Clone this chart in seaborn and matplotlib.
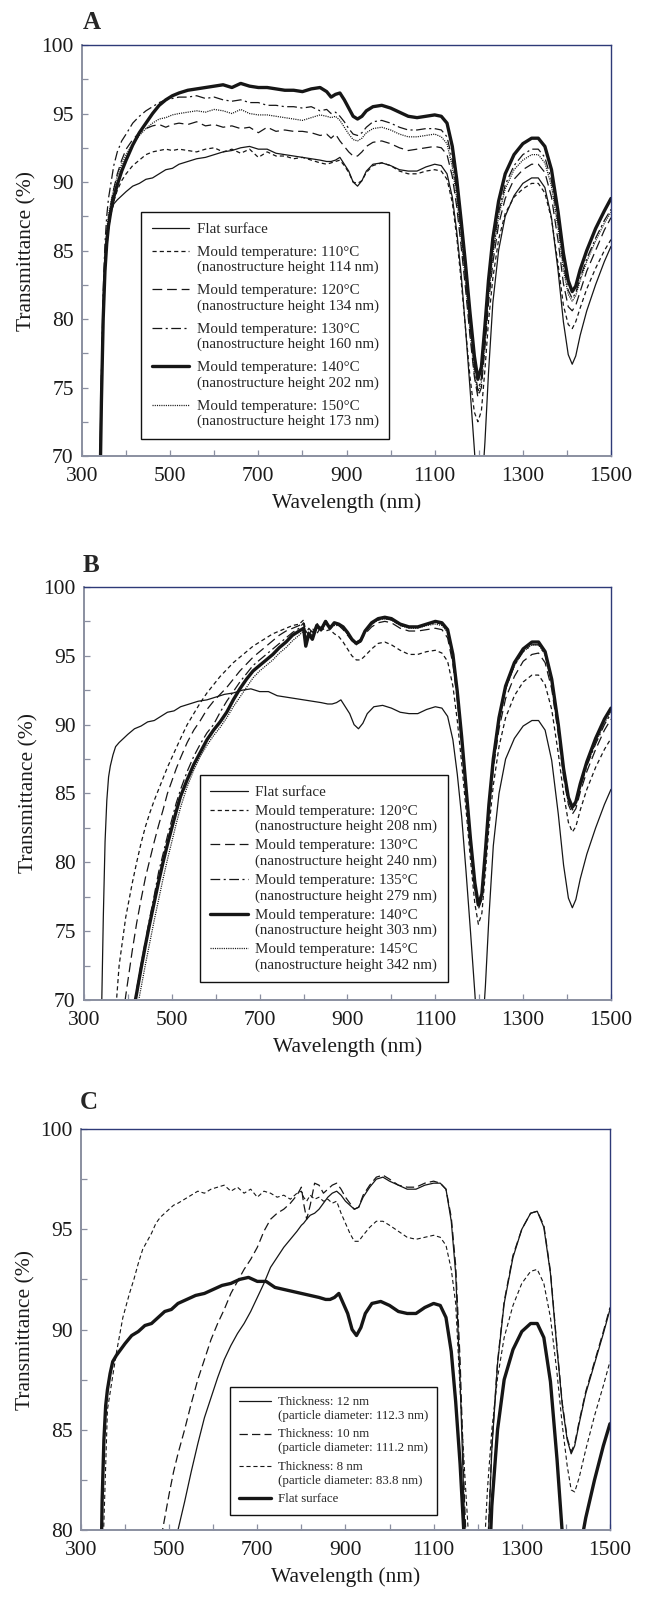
import numpy as np
import pandas as pd
import seaborn as sns
import matplotlib.pyplot as plt
from matplotlib.legend_handler import HandlerLine2D

# wavelength grids (nm)
wl_a = [340, 344, 348, 352, 356, 360, 366, 372, 380, 390,
        400, 415, 430, 445, 460, 475, 490, 505, 520, 540,
        560, 580, 600, 620, 640, 660, 680, 700, 720, 740,
        760, 780, 800, 820, 840, 855, 865, 875, 885, 895,
        905, 915, 925, 935, 945, 960, 980, 1000, 1020, 1040,
        1060, 1080, 1100, 1115, 1128, 1140, 1150, 1160, 1170, 1180,
        1190, 1198, 1206, 1214, 1222, 1232, 1245, 1260, 1280, 1300,
        1320, 1335, 1350, 1365, 1380, 1392, 1403, 1412, 1420, 1430,
        1445, 1465, 1485, 1500]
wl_b = [340, 360, 380, 395, 410, 420, 430, 440, 450, 460,
        470, 480, 490, 500, 510, 520, 535, 550, 565, 580,
        595, 610, 625, 640, 655, 670, 685, 700, 715, 730,
        745, 760, 775, 790, 800, 805, 812, 820, 830, 840,
        850, 860, 870, 880, 890, 900, 910, 920, 930, 940,
        955, 970, 985, 1000, 1020, 1040, 1060, 1080, 1100, 1115,
        1128, 1140, 1150, 1160, 1170, 1180, 1190, 1198, 1206, 1214,
        1222, 1232, 1245, 1260, 1280, 1300, 1320, 1335, 1350, 1365,
        1380, 1392, 1403, 1412, 1420, 1430, 1445, 1465, 1485, 1500]

# flat surface (same sample in all panels), on wl_a
flat_T = [69.0, 76.0, 81.5, 84.5, 86.2, 87.0, 87.8, 88.4, 88.7, 89.0,
          89.3, 89.7, 89.9, 90.2, 90.3, 90.6, 90.9, 91.0, 91.3, 91.5,
          91.7, 91.8, 92.0, 92.2, 92.3, 92.5, 92.6, 92.4, 92.4, 92.1,
          92.0, 91.9, 91.8, 91.7, 91.6, 91.5, 91.5, 91.6, 91.8, 91.3,
          90.8, 90.0, 89.7, 90.1, 90.8, 91.3, 91.4, 91.2, 90.9, 90.8,
          90.8, 91.1, 91.3, 91.2, 90.6, 88.9, 86.4, 83.3, 79.3, 75.0,
          70.5, 66.5, 67.0, 71.0, 76.0, 81.2, 85.0, 87.5, 89.0, 89.9,
          90.3, 90.3, 89.6, 87.4, 83.5, 79.8, 77.4, 76.7, 77.3, 78.8,
          80.6, 82.5, 84.2, 85.3]

# panel A, on wl_a
T110a = [66.0, 74.0, 79.5, 83.0, 85.2, 86.5, 87.7, 88.6, 89.4, 90.1,
         90.6, 91.2, 91.6, 92.0, 92.2, 92.3, 92.4, 92.3, 92.4, 92.3,
         92.2, 92.4, 92.5, 92.2, 92.4, 92.1, 92.4, 91.8, 92.2, 91.9,
         91.9, 91.7, 91.8, 91.6, 91.4, 91.3, 91.4, 91.5, 91.6, 91.2,
         90.7, 90.0, 89.9, 90.1, 90.7, 91.2, 91.4, 91.2, 90.8, 90.6,
         90.6, 90.8, 90.9, 90.8, 90.2, 88.5, 86.0, 82.8, 79.3, 75.8,
         73.2, 72.5, 73.3, 76.3, 79.8, 83.0, 85.8, 87.7, 88.9, 89.5,
         89.9, 89.9, 89.2, 87.3, 84.0, 81.0, 79.6, 79.3, 79.8, 80.8,
         82.2, 83.7, 85.0, 85.8]
T120a = [66.0, 75.0, 80.5, 84.0, 86.0, 87.3, 88.5, 89.5, 90.6, 91.6,
         92.4, 93.1, 93.6, 93.9, 94.1, 94.2, 94.0, 94.2, 94.3, 94.2,
         94.4, 94.1, 94.2, 94.0, 94.1, 93.9, 94.0, 93.6, 94.0, 93.7,
         93.8, 93.7, 93.7, 93.6, 93.4, 93.5, 93.2, 93.5, 93.0, 92.6,
         92.2, 91.9, 91.9, 92.2, 92.6, 92.9, 93.0, 92.8, 92.5, 92.3,
         92.4, 92.5, 92.6, 92.5, 92.0, 90.4, 88.2, 85.3, 82.2, 78.8,
         75.8, 74.3, 75.0, 77.9, 81.1, 84.1, 86.9, 88.8, 90.2, 90.9,
         91.3, 91.3, 90.7, 88.9, 85.7, 82.6, 80.9, 80.6, 81.0, 82.0,
         83.5, 85.0, 86.5, 87.4]
T130a = [67.0, 76.0, 82.0, 85.5, 87.5, 88.8, 90.0, 91.2, 92.2, 93.0,
         93.5, 94.3, 94.8, 95.2, 95.5, 95.8, 96.0, 96.1, 96.2, 96.2,
         96.3, 96.1, 96.2, 96.0, 95.9, 96.0, 95.8, 95.8, 95.6, 95.6,
         95.5, 95.5, 95.4, 95.5, 95.2, 95.3, 95.0, 95.1, 94.8, 94.4,
         93.9, 93.5, 93.4, 93.6, 94.0, 94.4, 94.5, 94.3, 94.0, 93.8,
         93.8, 93.9, 93.9, 93.8, 93.3, 91.6, 89.3, 86.4, 83.2, 79.7,
         76.5, 74.8, 75.7, 78.7, 82.0, 85.0, 87.8, 89.8, 91.2, 92.0,
         92.4, 92.4, 91.8, 90.1, 87.0, 84.0, 82.1, 81.5, 81.9, 83.0,
         84.4, 85.9, 87.2, 88.0]
T140a = [66.0, 74.0, 80.0, 83.5, 85.5, 86.8, 88.0, 88.9, 89.8, 90.8,
         91.6, 92.7, 93.6, 94.3, 95.0, 95.6, 96.0, 96.3, 96.5, 96.7,
         96.8, 96.9, 97.0, 97.1, 96.9, 97.2, 97.0, 96.9, 96.9, 96.8,
         96.7, 96.7, 96.6, 96.8, 96.9, 96.6, 96.2, 96.4, 96.5, 96.0,
         95.4, 94.8, 94.6, 94.8, 95.2, 95.5, 95.6, 95.4, 95.1, 94.8,
         94.7, 94.8, 94.9, 94.8, 94.3, 92.6, 90.2, 87.2, 84.0, 80.5,
         77.3, 75.6, 76.5, 79.5, 82.8, 85.9, 88.6, 90.6, 92.0, 92.8,
         93.2, 93.2, 92.6, 90.9, 87.8, 84.8, 82.8, 82.0, 82.4, 83.6,
         85.0, 86.6, 87.9, 88.8]
T150a = [66.0, 75.0, 81.0, 84.5, 86.5, 87.6, 88.6, 89.5, 90.4, 91.3,
         92.0, 92.8, 93.4, 93.9, 94.3, 94.6, 94.7, 94.9, 95.0, 95.1,
         95.2, 95.1, 95.3, 95.2, 95.0, 95.3, 95.0, 94.9, 94.9, 94.8,
         94.7, 94.6, 94.5, 94.7, 94.9, 94.8, 94.7, 94.8, 94.5, 94.0,
         93.5, 93.1, 93.0, 93.2, 93.6, 93.9, 94.0, 93.8, 93.5, 93.3,
         93.3, 93.4, 93.5, 93.3, 92.8, 91.1, 88.8, 85.9, 82.7, 79.2,
         76.0, 74.6, 75.4, 78.4, 81.6, 84.7, 87.5, 89.5, 90.9, 91.6,
         92.0, 92.0, 91.4, 89.7, 86.6, 83.6, 81.8, 81.3, 81.7, 82.8,
         84.2, 85.7, 87.0, 87.8]

# panel B, on wl_b
T120b = [55, 64, 72.5, 76.0, 78.5, 80.0, 81.4, 82.6, 83.6, 84.5,
         85.3, 86.1, 86.9, 87.6, 88.3, 89.0, 90.0, 90.8, 91.6, 92.3,
         92.9, 93.5, 94.0, 94.5, 94.9, 95.3, 95.7, 96.0, 96.3, 96.6,
         96.8, 97.0, 97.2, 97.3, 97.6, 96.8, 96.5, 97.0, 96.6, 97.1,
         96.8, 96.9, 96.6, 96.4, 96.0, 95.5, 95.0, 94.7, 94.7, 95.0,
         95.5, 95.9, 96.0, 95.8, 95.4, 95.1, 95.1, 95.3, 95.4, 95.2,
         94.6, 92.8, 90.3, 87.2, 83.8, 80.2, 77.0, 75.5, 76.3, 79.3,
         82.5, 85.6, 88.4, 90.5, 92.1, 93.1, 93.6, 93.6, 92.9, 91.1,
         87.9, 85.0, 82.9, 82.2, 82.6, 83.8, 85.3, 86.9, 88.2, 89.0]
T130b = [52, 60, 66.5, 70.3, 73.6, 75.6, 77.3, 78.9, 80.2, 81.5,
         82.7, 83.8, 85.0, 85.9, 86.8, 87.6, 88.7, 89.6, 90.3, 91.1,
         91.7, 92.2, 92.7, 93.3, 93.9, 94.4, 94.9, 95.3, 95.7, 96.1,
         96.5, 96.8, 97.0, 97.2, 97.4, 96.6, 97.0, 96.7, 97.3, 97.0,
         97.4, 97.1, 97.3, 97.2, 96.9, 96.5, 96.1, 95.9, 96.1, 96.6,
         97.1, 97.4, 97.5, 97.4, 97.0, 96.8, 96.8, 96.9, 97.0, 96.9,
         96.3, 94.4, 91.8, 88.6, 85.0, 81.3, 78.1, 76.6, 77.3, 80.3,
         83.6, 86.8, 89.7, 91.9, 93.5, 94.6, 95.1, 95.2, 94.5, 92.6,
         89.3, 86.2, 84.2, 83.5, 83.9, 85.1, 86.6, 88.2, 89.6, 90.4]
T135b = [45, 53, 60.5, 65.5, 69.0, 70.8, 72.6, 74.3, 76.0, 77.6,
         79.3, 80.6, 81.9, 83.1, 84.3, 85.3, 86.6, 87.7, 88.6, 89.4,
         90.0, 90.9, 91.7, 92.4, 93.1, 93.7, 94.3, 94.7, 95.1, 95.5,
         95.9, 96.3, 96.7, 97.0, 97.4, 96.2, 96.8, 96.4, 97.4, 96.9,
         97.6, 97.1, 97.4, 97.3, 97.0, 96.6, 96.2, 96.0, 96.2, 96.8,
         97.3, 97.6, 97.7, 97.6, 97.2, 97.1, 97.1, 97.3, 97.4, 97.3,
         96.8, 95.0, 92.3, 89.0, 85.3, 81.6, 78.4, 76.8, 77.6, 80.7,
         84.0, 87.3, 90.3, 92.6, 94.3, 95.3, 95.8, 95.8, 95.1, 93.1,
         89.8, 86.6, 84.5, 83.8, 84.2, 85.4, 87.0, 88.6, 90.0, 90.8]
T140b = [45, 53, 60, 65, 68.8, 70.5, 72.3, 74.0, 75.6, 77.1,
         78.6, 80.0, 81.3, 82.5, 83.7, 84.8, 86.0, 87.1, 88.0, 88.9,
         89.6, 90.2, 90.9, 91.8, 92.6, 93.3, 93.9, 94.3, 94.7, 95.1,
         95.6, 96.0, 96.5, 96.8, 97.0, 95.7, 96.6, 96.2, 97.2, 96.9,
         97.5, 97.0, 97.4, 97.3, 97.1, 96.7, 96.2, 95.9, 96.1, 96.8,
         97.4, 97.7, 97.8, 97.7, 97.3, 97.1, 97.1, 97.3, 97.5, 97.4,
         96.9, 95.1, 92.4, 89.1, 85.4, 81.7, 78.5, 76.9, 77.7, 80.8,
         84.2, 87.5, 90.5, 92.8, 94.5, 95.5, 96.0, 96.0, 95.3, 93.3,
         90.0, 86.8, 84.7, 84.0, 84.4, 85.7, 87.3, 89.0, 90.4, 91.2]
T145b = [44, 52, 59, 64, 67.5, 69.2, 70.9, 72.6, 74.2, 75.8,
         77.3, 78.8, 80.2, 81.5, 82.8, 84.0, 85.5, 86.7, 87.7, 88.5,
         89.2, 89.8, 90.5, 91.3, 92.0, 92.7, 93.4, 93.9, 94.3, 94.7,
         95.2, 95.6, 96.1, 96.5, 96.8, 96.1, 96.5, 96.3, 97.0, 96.8,
         97.3, 97.0, 97.2, 97.2, 97.0, 96.6, 96.1, 95.8, 96.0, 96.7,
         97.3, 97.6, 97.7, 97.6, 97.2, 97.0, 97.0, 97.2, 97.3, 97.2,
         96.7, 94.9, 92.2, 88.9, 85.2, 81.5, 78.4, 77.0, 77.8, 80.8,
         84.1, 87.3, 90.3, 92.6, 94.3, 95.3, 95.8, 95.8, 95.1, 93.1,
         89.8, 86.6, 84.5, 83.9, 84.3, 85.5, 87.1, 88.7, 90.1, 91.0]

# panel C, on wl_b
T12c = [55, 58, 62, 65, 68, 69.6, 71.0, 72.3, 73.5, 74.7,
        75.8, 76.9, 77.8, 78.6, 79.3, 80.0, 81.4, 82.9, 84.3, 85.6,
        86.6, 87.6, 88.5, 89.2, 89.8, 90.3, 90.9, 91.6, 92.3, 93.1,
        93.6, 94.1, 94.5, 94.9, 95.2, 95.3, 95.5, 95.7, 95.8, 96.0,
        96.3, 96.6, 96.8, 96.9, 96.7, 96.4, 96.2, 96.0, 96.1, 96.6,
        97.1, 97.5, 97.6, 97.4, 97.2, 97.0, 97.0, 97.2, 97.3, 97.3,
        97.0, 95.4, 92.8, 87.5, 80.5, 75.0, 70.0, 67.0, 68.0, 73.0,
        78.5, 84.0, 88.3, 91.3, 93.6, 95.0, 95.8, 95.9, 95.1, 92.8,
        89.0, 86.2, 84.5, 83.8, 84.2, 85.3, 86.8, 88.3, 89.8, 91.0]
T10c = [61, 64, 67, 69, 71, 72.2, 73.4, 74.6, 75.8, 77.0,
        78.2, 79.4, 80.6, 81.8, 82.9, 83.8, 85.0, 86.3, 87.5, 88.5,
        89.5, 90.3, 91.0, 91.8, 92.4, 93.0, 93.5, 94.1, 94.9, 95.5,
        95.8, 96.0, 96.3, 96.7, 97.1, 96.3, 95.5, 96.2, 97.3, 97.2,
        96.8, 97.0, 97.2, 97.3, 97.0, 96.6, 96.3, 96.0, 96.1, 96.7,
        97.2, 97.6, 97.7, 97.5, 97.2, 97.1, 97.1, 97.3, 97.4, 97.3,
        97.0, 95.6, 93.2, 88.5, 81.5, 76.0, 71.0, 68.0, 68.5, 73.5,
        78.8, 84.2, 88.4, 91.4, 93.7, 95.0, 95.8, 95.9, 95.2, 92.9,
        89.1, 86.3, 84.6, 83.9, 84.3, 85.4, 86.9, 88.4, 89.9, 91.1]
T8c = [72, 86.0, 88.8, 90.6, 91.8, 92.5, 93.3, 94.0, 94.4, 94.8,
       95.3, 95.6, 95.8, 96.0, 96.2, 96.3, 96.5, 96.7, 96.9, 96.8,
       97.0, 97.1, 97.2, 96.9, 97.1, 96.8, 97.0, 96.6, 96.9, 96.8,
       96.6, 96.7, 96.5, 96.8, 96.9, 96.6, 96.4, 96.7, 96.5, 96.6,
       96.4, 96.5, 96.3, 96.4, 95.8, 95.3, 94.8, 94.4, 94.4, 94.7,
       95.1, 95.4, 95.4, 95.2, 94.9, 94.6, 94.5, 94.6, 94.7, 94.6,
       94.2, 93.0, 91.3, 87.0, 83.0, 79.4, 76.0, 74.0, 75.0, 78.6,
       82.0, 85.0, 87.6, 89.6, 91.2, 92.3, 92.9, 93.0, 92.3, 90.6,
       87.8, 85.2, 83.2, 82.0, 81.9, 82.6, 84.0, 85.7, 87.2, 88.4]

x_ticks = [300, 500, 700, 900, 1100, 1300, 1500]
x_minor = [400, 600, 800, 1000, 1200, 1400]

labels_a = ["Flat surface",
            "Mould temperature: 110\u00b0C\n(nanostructure height 114 nm)",
            "Mould temperature: 120\u00b0C\n(nanostructure height 134 nm)",
            "Mould temperature: 130\u00b0C\n(nanostructure height 160 nm)",
            "Mould temperature: 140\u00b0C\n(nanostructure height 202 nm)",
            "Mould temperature: 150\u00b0C\n(nanostructure height 173 nm)"]
labels_b = ["Flat surface",
            "Mould temperature: 120\u00b0C\n(nanostructure height 208 nm)",
            "Mould temperature: 130\u00b0C\n(nanostructure height 240 nm)",
            "Mould temperature: 135\u00b0C\n(nanostructure height 279 nm)",
            "Mould temperature: 140\u00b0C\n(nanostructure height 303 nm)",
            "Mould temperature: 145\u00b0C\n(nanostructure height 342 nm)"]
labels_c = ["Thickness: 12 nm\n(particle diameter: 112.3 nm)",
            "Thickness: 10 nm\n(particle diameter: 111.2 nm)",
            "Thickness: 8 nm\n(particle diameter: 83.8 nm)",
            "Flat surface"]

sns.set_style("ticks")
plt.rcParams["font.family"] = ["Liberation Serif", "DejaVu Serif"]
plt.rcParams["lines.scale_dashes"] = False

INK = "#161616"
GREY = "#8a8fa0"
NAVY = "#2e3a78"
thin = (0.9, "-")
thick = (2.4, "-")
sdash = (0.9, (0, (3, 2.2)))
ldash = (0.9, (0, (7, 3.5)))
dashdot = (0.9, (0, (7, 2.5, 1.5, 2.5)))
dotted = (0.9, (0, (0.8, 0.8)))


class FirstLine(HandlerLine2D):
    # put the legend line next to the first text line
    def __init__(self, lift, **kw):
        super().__init__(**kw)
        self.lift = lift

    def create_artists(self, legend, orig_handle, xdescent, ydescent,
                       width, height, fontsize, trans):
        arts = super().create_artists(legend, orig_handle, xdescent, ydescent,
                                      width, height, fontsize, trans)
        for a in arts:
            a.set_ydata(np.asarray(a.get_ydata(), float) + self.lift * fontsize)
        return arts


def curve(ax, wl, T, style, label):
    lw, ls = style
    df = pd.DataFrame({"wl": wl, "T": T})
    sns.lineplot(data=df, x="wl", y="T", ax=ax, color=INK, lw=lw, linestyle=ls,
                 estimator=None, sort=False, legend=False, label=label)


def frame(ax, ylo, letter, lx, ly):
    ax.set_xlim(300, 1500)
    ax.set_ylim(ylo, 100)
    ax.set_xticks(x_ticks)
    ax.set_xticks(x_minor, minor=True)
    ax.set_yticks(np.arange(ylo, 100.1, 5))
    ax.set_yticks(np.arange(ylo + 2.5, 100, 5), minor=True)
    ax.set_yticklabels([str(int(v)) for v in np.arange(ylo, 100.1, 5)])
    ax.tick_params(which="both", direction="in", length=4, width=0.9,
                   color=GREY, labelsize=15.5, labelcolor="#1a1a1a")
    ax.tick_params(axis="x", pad=8)
    ax.tick_params(axis="y", pad=6)
    for s in ["left", "bottom"]:
        ax.spines[s].set_color(GREY)
        ax.spines[s].set_linewidth(1.4)
    for s in ["top", "right"]:
        ax.spines[s].set_visible(True)
        ax.spines[s].set_color(NAVY)
        ax.spines[s].set_linewidth(1.0)
    ax.set_xlabel("Wavelength (nm)", fontsize=15.5, color="#1a1a1a", labelpad=5)
    ax.set_ylabel("Transmittance (%)", fontsize=15.5, color="#1a1a1a", labelpad=3.5)
    fig.text(lx / 650, 1 - ly / 1609, letter, fontsize=18, fontweight="bold",
             va="baseline", ha="left")


def legend(ax, fs, spacing, x, y):
    h, l = ax.get_legend_handles_labels()
    hmap = {hh: FirstLine(0.6) for hh, ll in zip(h, l) if "\n" in ll}
    leg = ax.legend(h, l, loc="upper left", bbox_to_anchor=(x, y),
                    borderaxespad=0, fontsize=fs, frameon=True, fancybox=False,
                    edgecolor="#111111", framealpha=1, handlelength=2.5,
                    handletextpad=0.5, labelspacing=spacing, borderpad=0.7,
                    handler_map=hmap)
    leg.get_frame().set_linewidth(1.0)


fig = plt.figure(figsize=(6.5, 16.09), dpi=100)
ax_a = fig.add_axes([0.1262, 0.7166, 0.8138, 0.2554])
ax_b = fig.add_axes([0.1292, 0.3785, 0.8108, 0.2567])
ax_c = fig.add_axes([0.1246, 0.0491, 0.8138, 0.2492])

# A
curve(ax_a, wl_a, flat_T, thin, labels_a[0])
curve(ax_a, wl_a, T110a, sdash, labels_a[1])
curve(ax_a, wl_a, T120a, ldash, labels_a[2])
curve(ax_a, wl_a, T130a, dashdot, labels_a[3])
curve(ax_a, wl_a, T140a, thick, labels_a[4])
curve(ax_a, wl_a, T150a, dotted, labels_a[5])
frame(ax_a, 70, "A", 83, 29)
legend(ax_a, 10.8, 0.66, 0.1115, 0.594)

# B
curve(ax_b, wl_a, flat_T, thin, labels_b[0])
curve(ax_b, wl_b, T120b, sdash, labels_b[1])
curve(ax_b, wl_b, T130b, ldash, labels_b[2])
curve(ax_b, wl_b, T135b, dashdot, labels_b[3])
curve(ax_b, wl_b, T140b, thick, labels_b[4])
curve(ax_b, wl_b, T145b, dotted, labels_b[5])
frame(ax_b, 70, "B", 83, 572)
legend(ax_b, 10.8, 0.4, 0.220, 0.545)

# C
curve(ax_c, wl_b, T12c, thin, labels_c[0])
curve(ax_c, wl_b, T10c, (0.9, (0, (6, 3))), labels_c[1])
curve(ax_c, wl_b, T8c, (0.8, (0, (3, 2))), labels_c[2])
curve(ax_c, wl_a, flat_T, thick, labels_c[3])
frame(ax_c, 80, "C", 80, 1109)
legend(ax_c, 9.3, 0.52, 0.282, 0.357)

fig.savefig("out.png", dpi=100)
